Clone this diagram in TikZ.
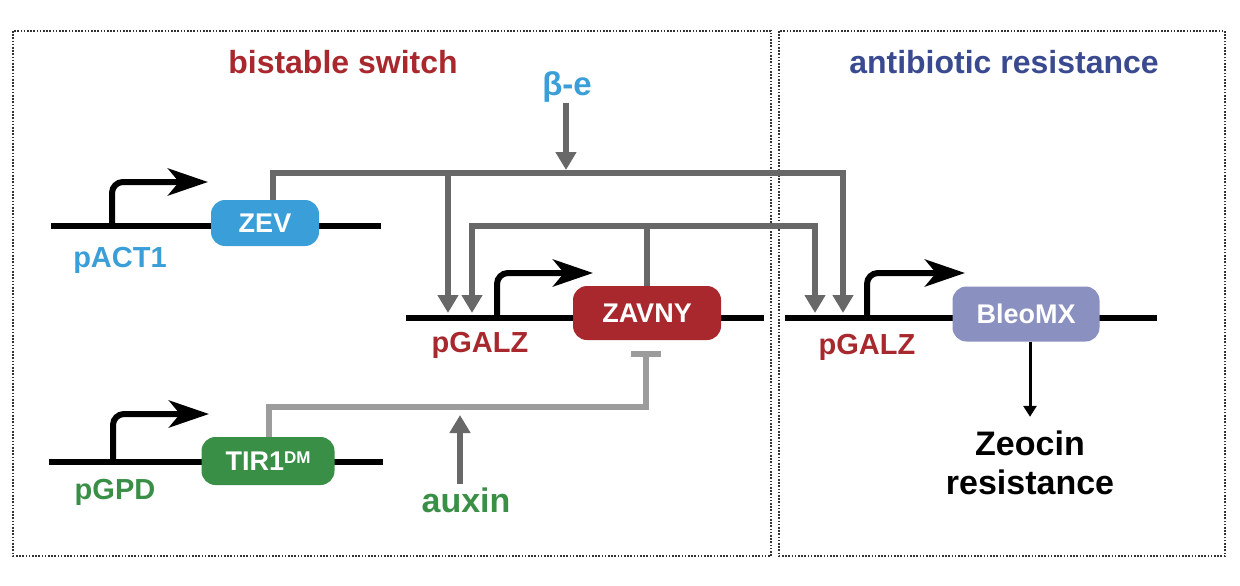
\documentclass[tikz,border=0pt]{standalone}
\usepackage{fontspec}
\setmainfont{Liberation Sans}
\usetikzlibrary{arrows.meta}
\definecolor{cblue}{HTML}{3A9FD8}
\definecolor{cred}{HTML}{A8282E}
\definecolor{cgreen}{HTML}{3A8F47}
\definecolor{clav}{HTML}{8A90C0}
\definecolor{cnavy}{HTML}{3A4A90}
\definecolor{cgrey}{HTML}{686868}
\definecolor{clgrey}{HTML}{9C9C9C}
\tikzset{
  frame/.style={draw=black!80, line width=1.3pt, dash pattern=on 1.6pt off 1.6pt},
  dna/.style={draw=black, line width=6pt},
  gene/.style={rounded corners=14pt, text=white, font=\bfseries\fontsize{27}{30}\selectfont, inner sep=0pt},
  lbl/.style={font=\bfseries\fontsize{29}{34}\selectfont, inner sep=0pt},
  ttl/.style={font=\bfseries\fontsize{32}{38}\selectfont, inner sep=0pt},
  prom/.style={draw=black, line width=6pt, rounded corners=11pt, -{Stealth[length=40pt,width=27pt,inset=11pt]}},
  gl/.style={draw=cgrey, line width=5.5pt},
  gtip/.style={-{Triangle[length=18pt,width=20pt]}},
}
\begin{document}
\begin{tikzpicture}[x=1pt,y=-1pt]
\useasboundingbox (0,0) rectangle (1240,586);
% frames
\draw[frame] (13,31) rectangle (771,556);
\draw[frame] (779,31) rectangle (1225,556);
% titles
\node[ttl, text=cred] (t1) at (343,62) {bistable switch};
\node[ttl, text=cnavy] (t2) at (1004,62) {antibiotic resistance};
% DNA lines
\coordinate (d1a) at (51,226); \coordinate (d1b) at (381,226);
\coordinate (d2a) at (406,318); \coordinate (d2b) at (764,318);
\coordinate (d3a) at (49,462); \coordinate (d3b) at (383,462);
\coordinate (d4a) at (785,318); \coordinate (d4b) at (1157,318);
\draw[dna] (d1a) -- (d1b);
\draw[dna] (d2a) -- (d2b);
\draw[dna] (d3a) -- (d3b);
\draw[dna] (d4a) -- (d4b);
% promoter arrows
\coordinate (pr1s) at (112,226); \coordinate (pr1t) at (208,182);
\coordinate (pr2s) at (497,318); \coordinate (pr2t) at (593,273);
\coordinate (pr3s) at (113,462); \coordinate (pr3t) at (209,414);
\coordinate (pr4s) at (867,318); \coordinate (pr4t) at (965,273);
\draw[prom] (pr1s) |- (pr1t);
\draw[prom] (pr2s) |- (pr2t);
\draw[prom] (pr3s) |- (pr3t);
\draw[prom] (pr4s) |- (pr4t);
% genes
\node[gene, fill=cblue, minimum width=108pt, minimum height=46pt] (zev) at (265,223) {ZEV};
\node[gene, fill=cred, minimum width=148pt, minimum height=54pt] (zavny) at (647,313) {ZAVNY};
\node[gene, fill=cgreen, minimum width=133pt, minimum height=48pt] (tir) at (268,461) {TIR1\raisebox{7pt}{\fontsize{17}{20}\selectfont DM}};
\node[gene, fill=clav, minimum width=147pt, minimum height=55pt] (bleo) at (1026,314) {BleoMX};
% labels
\node[lbl, text=cblue] (pact) at (120,260) {pACT1};
\node[lbl, text=cred] (pgalz1) at (480,345) {pGALZ};
\node[lbl, text=cgreen] (pgpd) at (115,492) {pGPD};
\node[lbl, text=cred] (pgalz2) at (867,347) {pGALZ};
\node[font=\bfseries\fontsize{34}{40}\selectfont, text=cgreen, inner sep=0pt] (aux) at (466,500) {auxin};
\node[font=\bfseries\fontsize{33}{38}\selectfont, text=cblue, inner sep=0pt] (be) at (567,87) {β-e};
\node[font=\bfseries\fontsize{34}{39}\selectfont, align=center, inner sep=0pt] (zeo) at (1030,463) {Zeocin\\resistance};
% regulatory connectors
\coordinate (c1) at (843,173);
\coordinate (j1) at (448,173);
\coordinate (p1a) at (448,313);
\coordinate (p2b) at (843,313);
\draw[gl, gtip] ([xshift=8pt]zev.north) |- (c1) -- (p2b);
\draw[gl, gtip] (j1) -- (p1a);
\coordinate (c2) at (472,226);
\coordinate (c3) at (815,226);
\coordinate (p1b) at (472,313);
\coordinate (p2a) at (815,313);
\draw[gl, {Triangle[length=18pt,width=20pt]}-{Triangle[length=18pt,width=20pt]}] (p1b) -- (c2) -- (c3) -- (p2a);
\draw[gl] (zavny.north) -- (zavny.north |- c2);
\coordinate (bet) at (566,170);
\draw[gl, gtip] (be.south -| bet) -- (bet);
\coordinate (ax) at (460,415);
\draw[gl, gtip] ([yshift=3pt]aux.north -| ax) -- (ax);
\coordinate (c4) at (646,407);
\coordinate (tb) at (646,351);
\draw[draw=clgrey, line width=5.5pt, -{Bar[width=30pt]}] ([xshift=1pt]tir.north) |- (c4) -- (tb);
\draw[draw=black, line width=3pt, -{Triangle[length=11pt,width=13pt]}] (bleo.south -| 1030,0) -- ([yshift=14pt]zeo.north);
\end{tikzpicture}
\end{document}
